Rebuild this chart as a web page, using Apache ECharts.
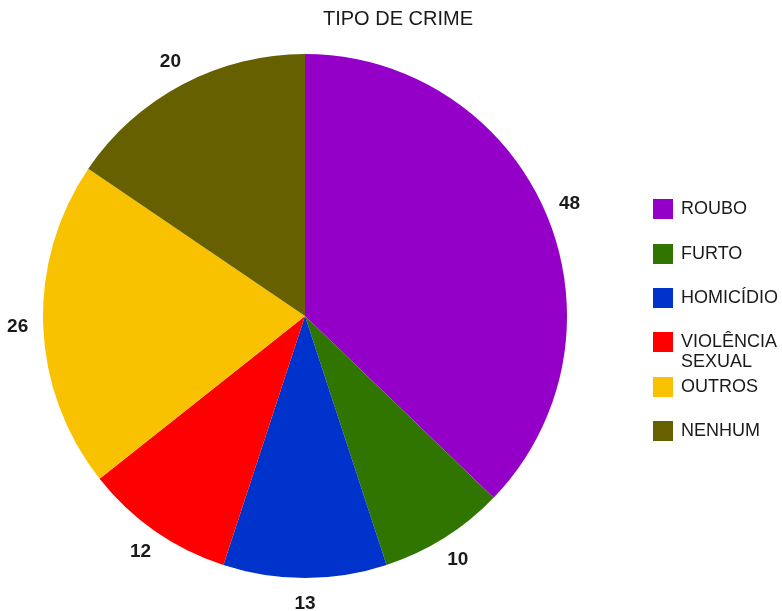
<!DOCTYPE html>
<html>
<head>
<meta charset="utf-8">
<script src="https://cdn.jsdelivr.net/npm/echarts@6/dist/echarts.min.js"></script>
<style>
  html, body { margin: 0; padding: 0; background: #fff; }
  #chart { width: 782px; height: 611px; }
</style>
</head>
<body>
<div id="chart"></div>
<script>
const categories = ['ROUBO', 'FURTO', 'HOMICÍDIO', 'VIOLÊNCIA SEXUAL', 'OUTROS', 'NENHUM']
const values = [48, 10, 13, 12, 26, 20]
const colors = ['#9400c8', '#2f7500', '#0033cc', '#ff0000', '#f9c200', '#666000']

const FONT = "'Liberation Sans', Arial, sans-serif"
const pieData = categories.map((name, i) => ({ name, value: values[i] }))

// one legend per item so the wrapped entry keeps its square on the first line
const legendTops = [199, 244, 288, 312, 377, 421]
const legends = categories.map((name, i) => ({
  data: [name],
  orient: 'vertical',
  left: 653,
  top: legendTops[i],
  padding: 0,
  icon: 'rect',
  itemWidth: 20,
  itemHeight: 20,
  selectedMode: false,
  // blank first line pushes the wrapped text down so line 1 sits by the square
  formatter: n => n.indexOf(' ') > 0 ? '\n' + n.replace(' ', '\n') : n,
  textStyle: {
    fontFamily: FONT, fontSize: 18, color: '#1a1a1a',
    lineHeight: 20,
    padding: [0, 0, 0, 3],
  },
}))

const chart = echarts.init(document.getElementById('chart'))
chart.setOption({
  color: colors,
  animation: false,
  title: {
    text: 'TIPO DE CRIME',
    left: 318,
    top: 4,
    textStyle: { fontFamily: FONT, fontSize: 20, fontWeight: 'normal', color: '#1a1a1a' },
  },
  legend: legends,
  series: [
    {
      type: 'pie',
      center: [305, 316],
      radius: [0, 262],
      startAngle: 90,
      data: pieData,
      itemStyle: { borderWidth: 0 },
      label: { show: false },
      labelLine: { show: false },
      silent: true,
    },
    {
      // transparent ring used only to place the value labels around the pie
      type: 'pie',
      center: [305, 316],
      radius: [262, 307],
      startAngle: 90,
      data: pieData,
      itemStyle: { color: 'rgba(0,0,0,0)', borderWidth: 0 },
      label: {
        show: true,
        position: 'inside',
        formatter: '{c}',
        fontFamily: FONT, fontSize: 19, fontWeight: 'bold', color: '#1a1a1a',
      },
      labelLine: { show: false },
      silent: true,
    },
  ],
})
</script>
</body>
</html>
